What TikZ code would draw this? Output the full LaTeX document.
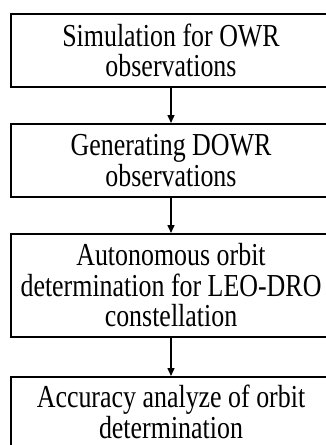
\documentclass[tikz,border=0pt]{standalone}
\usepackage{fontspec}
\setmainfont{Liberation Serif}
\newfontfamily\boxfont[FakeStretch=0.81]{Liberation Serif}
\usetikzlibrary{arrows.meta}
\begin{document}
\begin{tikzpicture}[x=1pt,y=1pt,
  boxtext/.style={align=flush center, inner sep=0pt, font=\boxfont\fontsize{32}{30.5}\selectfont},
  stepbox/.style={draw, line width=2pt, minimum width=320pt, text width=314pt, boxtext},
  flow/.style={line width=1.5pt, -{Triangle[width=7pt,length=8pt]}}]
\useasboundingbox (0,0) rectangle (325,-445);
\node[stepbox, minimum height=73pt] (sim) at (171,-50.5) {Simulation for OWR\\observations};
\node[stepbox, minimum height=73pt] (gen) at (171,-160.5) {Generating DOWR\\observations};
\node[stepbox, minimum height=103pt] (aod) at (171,-285.5) {Autonomous orbit\\determination for LEO-DRO\\constellation};
% last box runs past the lower edge; its caption is set on its own
\node[stepbox, minimum height=73pt] (acc) at (171,-413.5) {};
\node[boxtext] (acctext) at ([yshift=1.5pt]acc.center) {Accuracy analyze of orbit\\determination};
\draw[flow] (sim.south) -- (gen.north);
\draw[flow] (gen.south) -- (aod.north);
\draw[flow] (aod.south) -- (acc.north);
\end{tikzpicture}
\end{document}
